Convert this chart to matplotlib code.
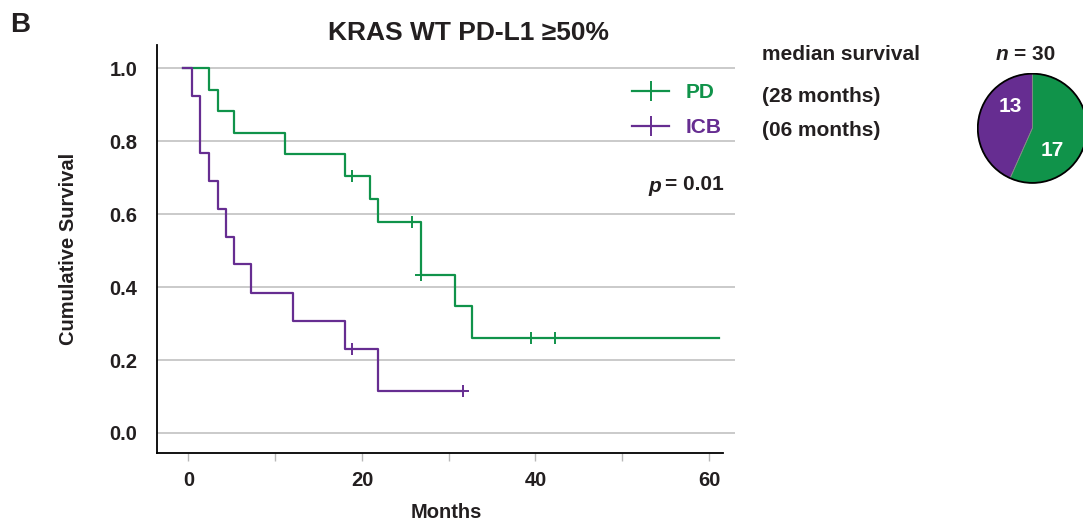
import numpy as np
import matplotlib.pyplot as plt

plt.rcParams['font.family'] = ['Liberation Sans', 'DejaVu Sans']
plt.rcParams['font.weight'] = 'bold'

# Kaplan-Meier steps
pd_times = [-0.6, 2.4, 3.4, 5.3, 11.1, 18.0, 20.9, 21.9, 26.8, 30.7, 32.7, 61.2]
pd_surv = [1.0, 0.941, 0.882, 0.824, 0.765, 0.706, 0.642, 0.578, 0.433, 0.347, 0.260, 0.260]
pd_censor = [18.9, 25.8, 26.8, 39.5, 42.3]

icb_times = [-0.6, 0.4, 1.3, 2.4, 3.4, 4.3, 5.3, 7.2, 12.1, 18.0, 21.9, 31.7]
icb_surv = [1.0, 0.923, 0.769, 0.692, 0.615, 0.538, 0.462, 0.385, 0.308, 0.231, 0.115, 0.115]
icb_censor = [18.9, 31.7]

groups = ["PD", "ICB"]
medians = ["(28 months)", "(06 months)"]
pie_counts = [13, 17]  # ICB, PD
n_total = 30
p_value = "0.01"

GREEN = "#10934a"
PURPLE = "#662d91"
DARK = "#231f20"

W, H = 1083, 527


def level_at(times, surv, t):
    i = np.searchsorted(times, t, side="right") - 1
    return surv[i]


def fx(x):
    return x / W


def fy(y):
    return 1 - y / H


fig = plt.figure(figsize=(W / 100, H / 100), dpi=100)
ax = fig.add_axes([fx(157), fy(453), fx(735) - fx(157), fy(45) - fy(453)])

ax.set_xlim(-3.63, 63.0)
ax.set_ylim(-0.055, 1.064)
ax.set_yticks([0.0, 0.2, 0.4, 0.6, 0.8, 1.0])
ax.set_yticklabels(["0.0", "0.2", "0.4", "0.6", "0.8", "1.0"])
ax.set_xticks([0, 10, 20, 30, 40, 50, 60])
ax.set_xticklabels(["0", "", "20", "", "40", "", "60"])
ax.grid(axis="y", color="#c6c6c6", linewidth=1.3)
ax.set_axisbelow(True)
ax.tick_params(axis="y", length=0, pad=14, labelsize=14.5, labelcolor=DARK)
ax.tick_params(axis="x", length=6, width=1, color="#b8b8b8", pad=7, labelsize=14.5,
               labelcolor=DARK)
for s in ["top", "right"]:
    ax.spines[s].set_visible(False)
ax.spines["left"].set_linewidth(1.3)
ax.spines["bottom"].set_linewidth(1.3)
ax.spines["bottom"].set_bounds(-3.63, 61.6)

series = [
    (pd_times, pd_surv, pd_censor, GREEN),
    (icb_times, icb_surv, icb_censor, PURPLE),
]
for name, (t, s, c, col) in zip(groups, series):
    ax.step(t, s, where="post", color=col, linewidth=1.6)
    cy = [level_at(t, s, v) for v in c]
    ax.plot(c, cy, linestyle="none", marker="+", markersize=9, mew=1.4, color=col)
    ax.plot([], [], color=col, linewidth=1.6, marker="+", markersize=14, mew=1.4, label=name)

leg = ax.legend(loc="upper left", bbox_to_anchor=(fx(622), fy(73)),
                bbox_transform=fig.transFigure, frameon=False, borderpad=0,
                handlelength=1.75, handletextpad=0.8, labelspacing=0.75,
                prop={"size": 15, "weight": "bold"})
for txt, col in zip(leg.get_texts(), [GREEN, PURPLE]):
    txt.set_color(col)

ax.set_xlabel("Months", fontsize=14.5, fontweight="bold", color=DARK, labelpad=9)
ax.set_ylabel("Cumulative Survival", fontsize=14.5, fontweight="bold", color=DARK,
              labelpad=23)

# p value
fig.text(fx(724), fy(185), "= " + p_value, ha="right", va="center", fontsize=15,
         fontweight="bold", color=DARK)
fig.text(fx(661), fy(186), "p", ha="right", va="center", fontsize=15,
         fontweight="bold", style="italic", color=DARK)

# titles
fig.text(fx(468), fy(33), "KRAS WT PD-L1 \u226550%", ha="center", va="center",
         fontsize=19, fontweight="bold", color=DARK)
fig.text(fx(10), fy(25), "B", ha="left", va="center", fontsize=20,
         fontweight="bold", color=DARK)

# median survival block
fig.text(fx(762), fy(54), "median survival", ha="left", va="center", fontsize=15,
         fontweight="bold", color=DARK)
for txt, y in zip(medians, [96, 130]):
    fig.text(fx(762), fy(y), txt, ha="left", va="center", fontsize=15,
             fontweight="bold", color=DARK)

fig.text(fx(1055), fy(54), "= %d" % n_total, ha="right", va="center", fontsize=15,
         fontweight="bold", color=DARK)
fig.text(fx(1008), fy(54), "n", ha="right", va="center", fontsize=15,
         fontweight="bold", style="italic", color=DARK)

# pie
cx, cy0, r = 1032.4, 128.3, 55.7
pax = fig.add_axes([fx(cx - r), fy(cy0 + r), 2 * r / W, 2 * r / H])
pax.pie(pie_counts, colors=[PURPLE, GREEN], startangle=90, counterclock=True,
        radius=1, wedgeprops={"linewidth": 0.6, "edgecolor": "#8a8a8a"})
circle = plt.Circle((0, 0), 1, fill=False, edgecolor="black", linewidth=1.3)
pax.add_patch(circle)
pax.set_xlim(-1.02, 1.02)
pax.set_ylim(-1.02, 1.02)
pax.set_aspect("equal")
pax.axis("off")
fig.text(fx(1010), fy(107), str(pie_counts[0]), ha="center", va="center", fontsize=15,
         fontweight="bold", color="white")
fig.text(fx(1052), fy(151), str(pie_counts[1]), ha="center", va="center", fontsize=15,
         fontweight="bold", color="white")

fig.savefig("out.png", dpi=100)
